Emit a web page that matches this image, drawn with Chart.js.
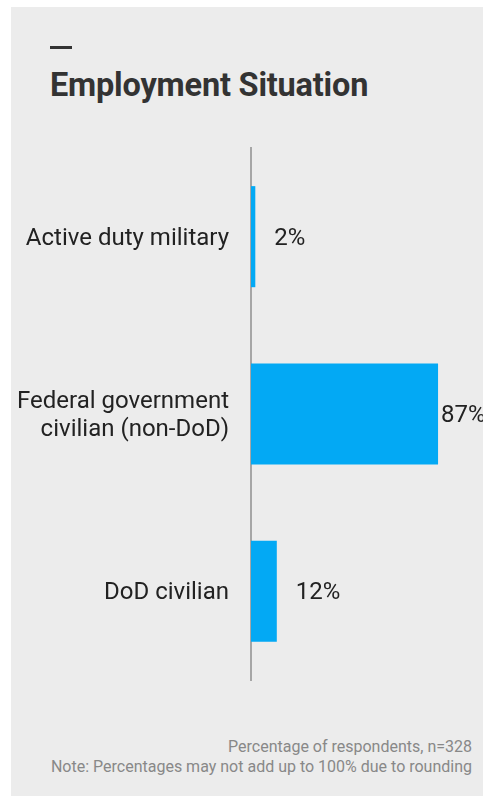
<!DOCTYPE html>
<html>
<head>
<meta charset="utf-8">
<script src="https://cdn.jsdelivr.net/npm/chart.js@4.4.1/dist/chart.umd.min.js"></script>
<style>
  html, body { margin: 0; padding: 0; background: #fff; }
  body { width: 483px; height: 796px; position: relative; overflow: hidden; font-family: Roboto, sans-serif; }
  .panel { position: absolute; left: 11px; top: 7px; width: 472px; height: 789px; background: #ececec; }
  .dash { position: absolute; left: 50px; top: 46px; width: 22px; height: 3px; background: #333; }
  .title { position: absolute; left: 50px; top: 66px; margin: 0; font-size: 32.5px; font-weight: 700; color: #333; letter-spacing: -0.2px; }
  .note { position: absolute; right: 11px; top: 737px; text-align: right; font-size: 16px; line-height: 20px; color: #888; }
  #chart { position: absolute; left: 0; top: 0; }
</style>
</head>
<body>
<div class="panel"></div>
<div class="dash"></div>
<h1 class="title">Employment Situation</h1>
<div class="note">Percentage of respondents, n=328<br>Note: Percentages may not add up to 100% due to rounding</div>
<canvas id="chart" width="483" height="796"></canvas>
<script>
// Datos del gráfico
const categorias = [
    'Active duty military',
    ['Federal government', 'civilian (non-DoD)'],
    'DoD civilian'
];
const porcentajes = [2, 87, 12];

// Etiquetas de valor a la derecha de cada barra
const etiquetasValor = {
    id: 'etiquetasValor',
    afterDatasetsDraw(chart) {
        const ctx = chart.ctx;
        const meta = chart.getDatasetMeta(0);
        ctx.save();
        ctx.font = '24px Roboto, sans-serif';
        ctx.fillStyle = '#222';
        ctx.textBaseline = 'middle';
        ctx.textAlign = 'left';
        meta.data.forEach((bar, i) => {
            const texto = porcentajes[i] + '%';
            const ancho = ctx.measureText(texto).width;
            let x = bar.x + 19;
            // si no cabe, se pega a la barra
            if (x + ancho > chart.width) x = bar.x + 3;
            ctx.fillText(texto, x, bar.y + 2);
        });
        ctx.restore();
    }
};

new Chart(document.getElementById('chart'), {
    type: 'bar',
    data: {
        labels: categorias,
        datasets: [{
            data: porcentajes,
            backgroundColor: '#03a9f4',
            borderWidth: 0,
            barPercentage: 0.57,
            categoryPercentage: 1
        }]
    },
    options: {
        indexAxis: 'y',
        responsive: false,
        animation: false,
        layout: {
            padding: { top: 148, bottom: 116, left: 0, right: 17 }
        },
        plugins: {
            legend: { display: false },
            tooltip: { enabled: false }
        },
        scales: {
            x: {
                display: false,
                min: 0,
                max: 100
            },
            y: {
                afterFit: function(scale) { scale.width = 251; },
                grid: { display: false, drawTicks: false },
                border: { display: true, color: '#a6a6a6', width: 2 },
                ticks: {
                    color: '#222',
                    padding: 22,
                    labelOffset: 2,
                    font: { family: 'Roboto, sans-serif', size: 24, lineHeight: 1.17 }
                }
            }
        }
    },
    plugins: [etiquetasValor]
});
</script>
</body>
</html>
